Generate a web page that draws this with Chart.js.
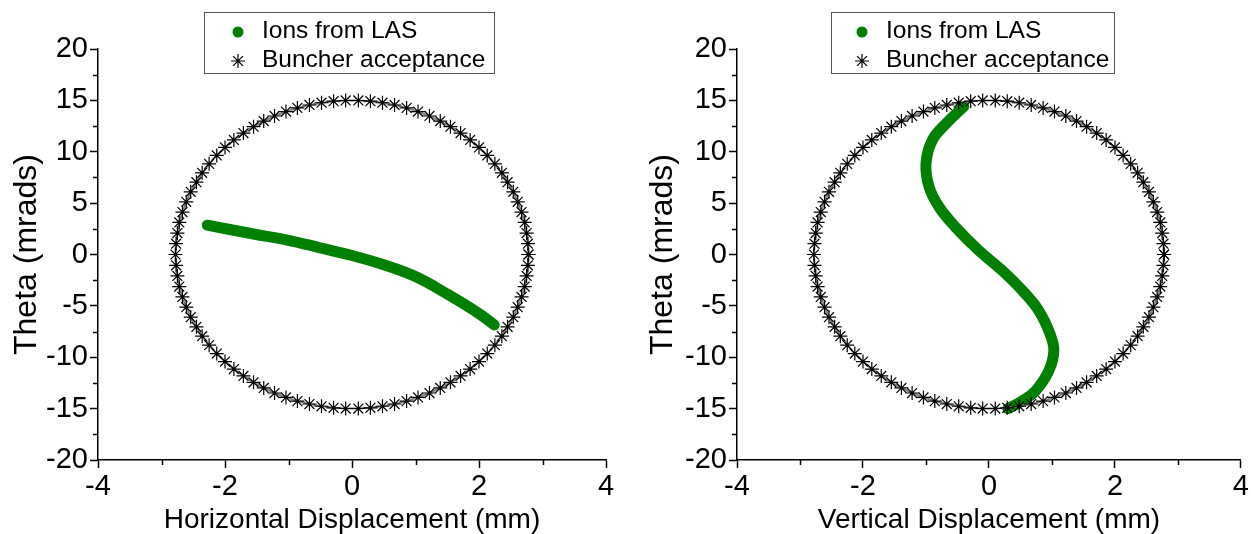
<!DOCTYPE html>
<html>
<head>
<meta charset="utf-8">
<script src="https://cdn.jsdelivr.net/npm/chart.js@4.4.0/dist/chart.umd.min.js"></script>
<style>
  html, body { margin: 0; padding: 0; background: #fff; }
  #wrap { position: relative; width: 1251px; height: 534px; }
  .panel { position: absolute; top: 0; }
</style>
</head>
<body>
<div id="wrap">
  <div class="panel" style="left:0"><canvas id="left" width="625" height="534"></canvas></div>
  <div class="panel" style="left:625px"><canvas id="right" width="626" height="534"></canvas></div>
</div>
<script>
// Buncher acceptance ellipse (mm, mrads)
const ellipseX = [
  2.78, 2.77, 2.75, 2.72, 2.67, 2.61, 2.54, 2.45, 2.36, 2.25, 2.13, 2.00, 1.86, 1.71, 1.55, 1.39, 1.22, 1.04, 0.86, 0.67, 0.48, 0.29, 0.10,
  -0.10, -0.29, -0.48, -0.67, -0.86, -1.04, -1.22, -1.39, -1.55, -1.71, -1.86, -2.00, -2.13, -2.25, -2.36, -2.45, -2.54, -2.61, -2.67, -2.72, -2.75, -2.77,
  -2.78,
  -2.77, -2.75, -2.72, -2.67, -2.61, -2.54, -2.45, -2.36, -2.25, -2.13, -2.00, -1.86, -1.71, -1.55, -1.39, -1.22, -1.04, -0.86, -0.67, -0.48, -0.29, -0.10,
  0.10, 0.29, 0.48, 0.67, 0.86, 1.04, 1.22, 1.39, 1.55, 1.71, 1.86, 2.00, 2.13, 2.25, 2.36, 2.45, 2.54, 2.61, 2.67, 2.72, 2.75, 2.77,
  2.78
];
const ellipseY = [
  0, 1.05, 2.09, 3.12, 4.13, 5.13, 6.10, 7.04, 7.95, 8.82, 9.64, 10.42, 11.15, 11.82, 12.44, 12.99, 13.48, 13.91, 14.27, 14.55, 14.77, 14.92, 14.99,
  14.99, 14.92, 14.77, 14.55, 14.27, 13.91, 13.48, 12.99, 12.44, 11.82, 11.15, 10.42, 9.64, 8.82, 7.95, 7.04, 6.10, 5.13, 4.13, 3.12, 2.09, 1.05,
  0,
  -1.05, -2.09, -3.12, -4.13, -5.13, -6.10, -7.04, -7.95, -8.82, -9.64, -10.42, -11.15, -11.82, -12.44, -12.99, -13.48, -13.91, -14.27, -14.55, -14.77, -14.92, -14.99,
  -14.99, -14.92, -14.77, -14.55, -14.27, -13.91, -13.48, -12.99, -12.44, -11.82, -11.15, -10.42, -9.64, -8.82, -7.95, -7.04, -6.10, -5.13, -4.13, -3.12, -2.09, -1.05,
  0
];

// Ions from LAS, horizontal plane
const horizX = [-2.28, -1.57, -1.00, -0.50, 0.00, 0.50, 1.00, 1.50, 2.00, 2.24];
const horizTheta = [2.85, 2.02, 1.38, 0.65, -0.10, -1.00, -2.15, -3.85, -5.75, -6.85];

// Ions from LAS, vertical plane
const vertX = [-0.40, -0.68, -0.90, -1.00, -0.95, -0.79, -0.53, -0.16, 0.21, 0.53, 0.79, 0.97, 1.03, 0.95, 0.74, 0.53, 0.30];
const vertTheta = [14.4, 12.75, 11.12, 8.85, 6.57, 4.61, 2.66, 0.39, -1.56, -3.51, -5.46, -7.74, -9.37, -11.32, -13.27, -14.24, -15.0];

const xMinor = [-3, -1, 1, 3];
const yMinor = [-17.5, -12.5, -7.5, -2.5, 2.5, 7.5, 12.5, 17.5];

const FONT = '"Liberation Sans", Arial, sans-serif';
const GREEN = '#008000';

// short minor ticks outside the axes
const minorTicks = {
  id: 'minorTicks',
  afterDraw(chart) {
    const {ctx, chartArea, scales} = chart;
    ctx.save();
    ctx.strokeStyle = '#000';
    ctx.lineWidth = 1.5;
    ctx.beginPath();
    xMinor.forEach(v => {
      const px = Math.round(scales.x.getPixelForValue(v)) + 0.5;
      ctx.moveTo(px, chartArea.bottom);
      ctx.lineTo(px, chartArea.bottom + 5);
    });
    yMinor.forEach(v => {
      const py = Math.round(scales.y.getPixelForValue(v)) + 0.5;
      ctx.moveTo(chartArea.left, py);
      ctx.lineTo(chartArea.left - 5, py);
    });
    ctx.stroke();
    ctx.restore();
  }
};

// boxed legend with stacked rows, like the original
const boxLegend = {
  id: 'boxLegend',
  afterDraw(chart, args, opts) {
    const ctx = chart.ctx;
    ctx.save();
    ctx.fillStyle = '#fff';
    ctx.fillRect(opts.x, opts.y, opts.width, opts.height);
    ctx.strokeStyle = '#555';
    ctx.lineWidth = 1;
    ctx.strokeRect(opts.x + 0.5, opts.y + 0.5, opts.width, opts.height);
    ctx.font = '24.5px ' + FONT;
    ctx.textBaseline = 'middle';
    const rows = [0, 1];
    rows.forEach((dsIndex, row) => {
      const ds = chart.data.datasets[dsIndex];
      const cx = opts.x + opts.markerX;
      const cy = opts.y + 20 + row * 29;
      if (ds.legendStyle === 'circle') {
        ctx.fillStyle = GREEN;
        ctx.beginPath();
        ctx.arc(cx, cy, 5.5, 0, Math.PI * 2);
        ctx.fill();
      } else {
        const r = 7, d = r * Math.SQRT1_2;
        ctx.strokeStyle = '#000';
        ctx.lineWidth = 1.2;
        ctx.beginPath();
        ctx.moveTo(cx - r, cy); ctx.lineTo(cx + r, cy);
        ctx.moveTo(cx, cy - r); ctx.lineTo(cx, cy + r);
        ctx.moveTo(cx - d, cy - d); ctx.lineTo(cx + d, cy + d);
        ctx.moveTo(cx - d, cy + d); ctx.lineTo(cx + d, cy - d);
        ctx.stroke();
      }
      ctx.fillStyle = '#000';
      ctx.fillText(ds.label, opts.x + opts.textX, cy - 1);
    });
    ctx.restore();
  }
};

function makePanel(id, ionX, ionTheta, xTitle, frame) {
  const ionPoints = ionX.map((x, i) => ({x: x, y: ionTheta[i]}));
  const ellipsePoints = ellipseX.map((x, i) => ({x: x, y: ellipseY[i]}));
  return new Chart(document.getElementById(id), {
    type: 'scatter',
    data: {
      datasets: [{
        label: 'Ions from LAS',
        data: ionPoints,
        showLine: true,
        borderColor: GREEN,
        backgroundColor: GREEN,
        borderWidth: 11,
        borderCapStyle: 'round',
        borderJoinStyle: 'round',
        pointRadius: 0,
        tension: 0.4,
        order: 2,
        legendStyle: 'circle'
      }, {
        label: 'Buncher acceptance',
        data: ellipsePoints,
        showLine: true,
        borderColor: 'rgba(110,110,110,0.9)',
        borderWidth: 2,
        pointStyle: 'star',
        pointRadius: 7,
        pointBorderColor: '#000',
        pointBorderWidth: 1.2,
        pointBackgroundColor: 'rgba(0,0,0,0)',
        order: 1,
        legendStyle: 'star'
      }]
    },
    options: {
      responsive: false,
      animation: false,
      layout: { padding: frame.padding },
      plugins: {
        legend: { display: false },
        tooltip: { enabled: false },
        boxLegend: frame.legend
      },
      scales: {
        x: {
          type: 'linear',
          min: -4,
          max: 4,
          ticks: { stepSize: 2, color: '#000', padding: 2, font: { family: FONT, size: 29 } },
          grid: { drawOnChartArea: false, drawTicks: true, tickLength: 8, tickWidth: 1.5, tickColor: '#000' },
          border: { color: '#000', width: 1.5 },
          title: { display: true, text: xTitle, color: '#000', padding: { top: 0, bottom: 0 }, font: { family: FONT, size: 28, lineHeight: 1 } },
          afterFit: s => { s.height = 74; }
        },
        y: {
          type: 'linear',
          min: -20,
          max: 20,
          ticks: { stepSize: 5, color: '#000', padding: 2, font: { family: FONT, size: 29 } },
          grid: { drawOnChartArea: false, drawTicks: true, tickLength: 8, tickWidth: 1.5, tickColor: '#000' },
          border: { color: '#000', width: 1.5 },
          title: { display: true, text: 'Theta (mrads)', color: '#000', padding: { top: 0, bottom: 0 }, font: { family: FONT, size: 32, lineHeight: 1 } },
          afterFit: s => { s.width = frame.yAxisWidth; }
        }
      }
    },
    plugins: [minorTicks, boxLegend]
  });
}

makePanel('left', horizX, horizTheta, 'Horizontal Displacement (mm)', {
  padding: { left: 11, right: 19, top: 49, bottom: 0 },
  yAxisWidth: 87,
  legend: { x: 204, y: 12, width: 290, height: 61, markerX: 34, textX: 58 }
});

makePanel('right', vertX, vertTheta, 'Vertical Displacement (mm)', {
  padding: { left: 22, right: 8, top: 49, bottom: 0 },
  yAxisWidth: 90,
  legend: { x: 206, y: 12, width: 283, height: 61, markerX: 31, textX: 55 }
});
</script>
</body>
</html>
